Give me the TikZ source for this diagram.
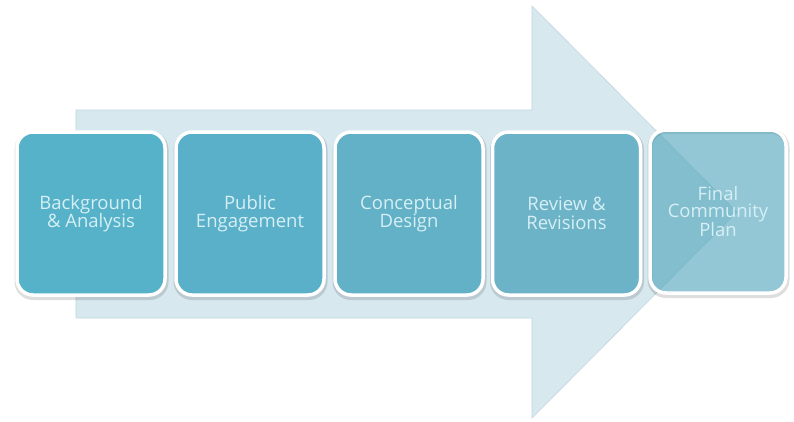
\documentclass[tikz,border=0pt]{standalone}
\usepackage{fontspec}
\setmainfont{Open Sans}
\begin{document}
\begin{tikzpicture}[x=1pt,y=-1pt,
  stagebox/.style={rounded corners=16pt, line width=3.5pt, draw=white,
    minimum width=148pt, minimum height=163pt, inner sep=0pt,
    align=center, text=txt, font=\fontsize{18.5}{18.5}\selectfont},
  shadowbox/.style={rounded corners=16pt, draw=black, draw opacity=0.13, line width=5pt,
    minimum width=149pt, minimum height=164pt, inner sep=0pt}]
\definecolor{arrowfill}{HTML}{D7E8EF}
\definecolor{arrowedge}{HTML}{C3D6DE}
\definecolor{cA}{HTML}{56B2C9}
\definecolor{cB}{HTML}{5AB0C8}
\definecolor{cC}{HTML}{62B1C7}
\definecolor{cD}{HTML}{6CB3C8}
\definecolor{cE}{HTML}{4BA3BB}
\definecolor{txt}{HTML}{D6EFF5}
\useasboundingbox[fill=white] (0,0) rectangle (794,421);
% big arrow
\fill[arrowfill, draw=arrowedge, line width=0.6pt]
  (76,110) -- (532,110) -- (532,6) -- (737,212) -- (532,418) -- (532,318) -- (76,318) -- cycle;
% shadows
\foreach \cx in {91,250,409,566.5}
  \node[shadowbox] at (\cx+0.5,215.5) {};
\node[shadowbox, minimum width=137pt] at (718.5,213.5) {};
% boxes
\node[stagebox, fill=cA] (s1) at (91,213.5) {Background\\\& Analysis};
\node[stagebox, fill=cB] (s2) at (250,213.5) {Public\\Engagement};
\node[stagebox, fill=cC] (s3) at (409,213.5) {Conceptual\\Design};
\node[stagebox, fill=cD] (s4) at (566.5,213.5) {Review \&\\Revisions};
\node[stagebox, fill=cE, fill opacity=0.6, text opacity=1, minimum width=136pt,
  font=\fontsize{18.5}{17}\selectfont] (s5) at (718,211.5) {Final\\Community\\Plan};
\end{tikzpicture}
\end{document}
